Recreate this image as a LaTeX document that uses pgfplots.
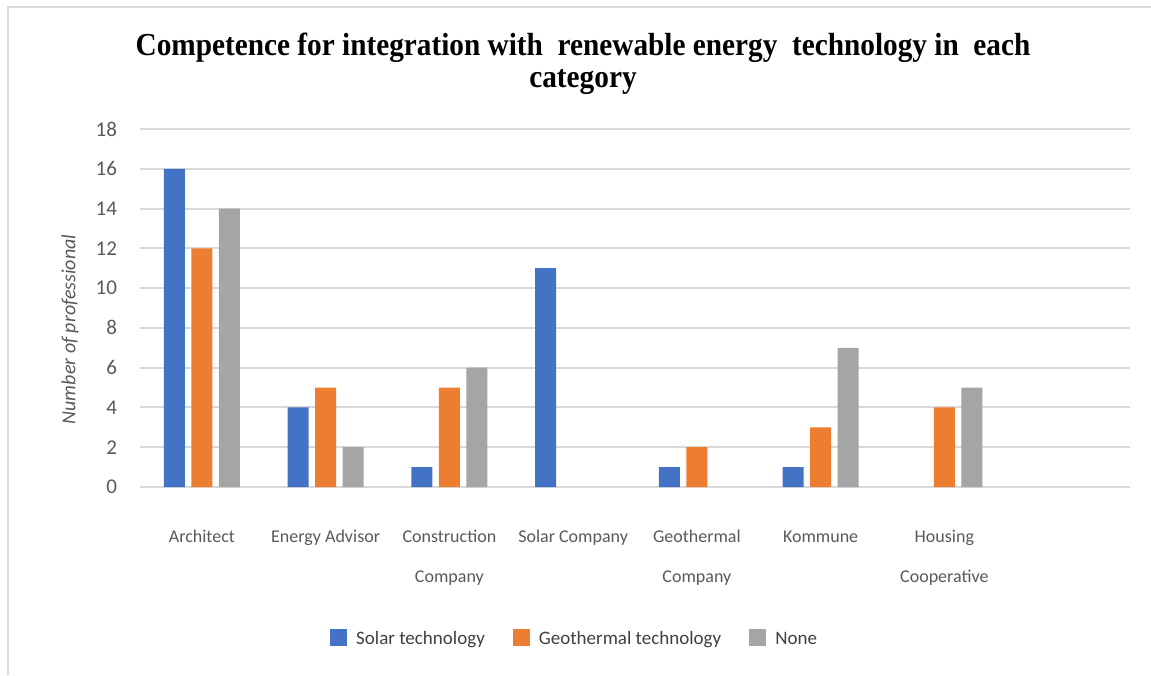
\documentclass[border=0pt]{standalone}
\usepackage{fontspec}
\setmainfont{Liberation Serif}
\newfontfamily\calibri{Carlito}
\usepackage{pgfplots}
\pgfplotsset{compat=1.18}
\definecolor{cblue}{HTML}{4472C4}
\definecolor{corange}{HTML}{ED7D31}
\definecolor{cgray}{HTML}{A5A5A5}
\definecolor{gridgray}{HTML}{D9D9D9}
\definecolor{ticktext}{HTML}{595959}
\definecolor{legtext}{HTML}{404040}
\begin{document}
\begin{tikzpicture}[x=1pt,y=1pt]
\path[use as bounding box] (0,0) rectangle (575.5,337.5);
\draw[color=gridgray, line width=1pt] (3.75,0) -- (3.75,333.75) -- (575.5,333.75);
\node[anchor=base, font=\bfseries\fontsize{16}{18}\selectfont] at (291.5,309.5) {\scalebox{0.915}[1]{Competence for integration with~ renewable energy~ technology in~ each}};
\node[anchor=base, font=\bfseries\fontsize{16}{18}\selectfont] at (291.5,293.5) {\scalebox{0.915}[1]{category}};
\begin{axis}[
  at={(70pt,94pt)}, anchor=south west,
  scale only axis, width=495pt, height=179pt,
  xmin=-0.5, xmax=7.5, ymin=0, ymax=18,
  xtick={0,...,6},
  xticklabels={Architect, Energy Advisor, Construction\\Company, Solar Company, Geothermal\\Company, \vphantom{h}Kommune, Housing\\Cooperative},
  ytick={0,2,...,18},
  /pgf/number format/assume math mode=true,
  ymajorgrids, grid style={gridgray, line width=1pt},
  axis line style={draw=none},
  major tick length=0pt,
  ybar=3.25pt, bar width=10.5pt,
  legend image code/.code={\fill[#1] (0pt,-4.25pt) rectangle (8.5pt,4.25pt);},
  yticklabel style={font=\calibri\fontsize{10.5}{12}\selectfont, color=ticktext, xshift=-8pt},
  xticklabel style={font=\calibri\fontsize{9}{20}\selectfont, color=ticktext, align=center, anchor=north, inner sep=0pt, yshift=-21.5pt},
  ylabel={Number of professional},
  ylabel style={font=\calibri\itshape\fontsize{10}{12}\selectfont, color=ticktext, at={(rel axis cs:0,0.44)}, anchor=center, yshift=35pt},
  legend style={at={(0.44,-0.42)}, anchor=center, draw=none, fill=none, legend columns=3,
    font=\calibri\fontsize{9.5}{12}\selectfont, text=legtext,
    /tikz/every even column/.append style={column sep=12pt},
    /tikz/every odd column/.append style={column sep=2.5pt}},
  legend cell align=left,
]
\addplot[fill=cblue, draw=none] coordinates {(0,16) (1,4) (2,1) (3,11) (4,1) (5,1)};
\addplot[fill=corange, draw=none] coordinates {(0,12) (1,5) (2,5) (4,2) (5,3) (6,4)};
\addplot[fill=cgray, draw=none] coordinates {(0,14) (1,2) (2,6) (5,7) (6,5)};
\legend{Solar technology\strut, Geothermal technology\strut, None\strut}
\end{axis}
\end{tikzpicture}
\end{document}
